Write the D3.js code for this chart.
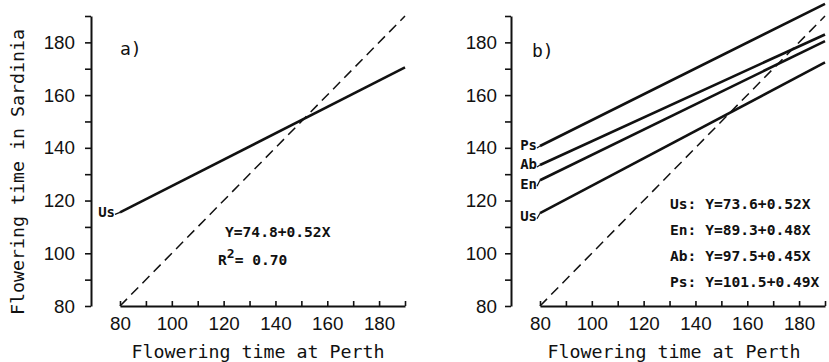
<!DOCTYPE html>
<html>
<head>
<meta charset="utf-8">
<script src="https://cdn.jsdelivr.net/npm/d3@7"></script>
<style>
  body { margin: 0; background: #fff; }
  svg { display: block; }
  .tick text { font-family: 'Liberation Sans', Arial, sans-serif; font-size: 18.8px; fill: #111; }
  .mono { font-family: 'DejaVu Sans Mono', monospace; fill: #111; }
  .bold { font-family: 'DejaVu Sans Mono', monospace; font-weight: bold; fill: #111; }
</style>
</head>
<body>
<div id="chart"></div>
<script>
// axis values
const xTicks = [80, 90, 100, 110, 120, 130, 140, 150, 160, 170, 180, 190];
const yTicks = [80, 90, 100, 110, 120, 130, 140, 150, 160, 170, 180, 190];
const tickLabels = [80, 100, 120, 140, 160, 180];

// 1:1 line
const diagonal = [80, 190];

// panel a: single regression (values read at x = 80 and x = 190)
const lineX = [80, 190];
const usA = [115.5, 170.5];
const eqA = 'Y=74.8+0.52X';
const r2A = '0.70';

// panel b: four lines, values at x = 80 and x = 190
const seriesB = ['Ps', 'Ab', 'En', 'Us'];
const startB = [140.7, 133.5, 127.7, 115.2];
const endB = [194.6, 183.0, 180.5, 172.4];
const eqB = ['Us: Y=73.6+0.52X', 'En: Y=89.3+0.48X', 'Ab: Y=97.5+0.45X', 'Ps: Y=101.5+0.49X'];

const width = 829;
const height = 362;

const svg = d3.select('#chart')
  .append('svg')
  .attr('width', width)
  .attr('height', height);

svg.append('rect').attr('width', width).attr('height', height).attr('fill', '#fff');

const y = d3.scaleLinear().domain([80, 190]).range([306, 16]);

function drawPanel(offset, yPad, titleX) {
  const g = svg.append('g').attr('transform', `translate(${offset},0)`);
  const x = d3.scaleLinear().domain([80, 190]).range([120, 405]);
  const axisX = 91;

  const yAxis = g.append('g')
    .attr('transform', `translate(${axisX},0)`)
    .call(d3.axisLeft(y)
      .tickValues(yTicks)
      .tickSizeInner(6)
      .tickSizeOuter(0)
      .tickPadding(yPad)
      .tickFormat(d => tickLabels.includes(d) ? d : ''));

  const xAxis = g.append('g')
    .attr('transform', `translate(0,${y(80)})`)
    .call(d3.axisBottom(x)
      .tickValues(xTicks)
      .tickSizeInner(-5)
      .tickSizeOuter(0)
      .tickPadding(11)
      .tickFormat(d => tickLabels.includes(d) ? d : ''));

  [yAxis, xAxis].forEach(a => {
    a.select('.domain').attr('stroke', '#111').attr('stroke-width', 2);
    a.selectAll('.tick line').attr('stroke', '#111').attr('stroke-width', 1.6);
  });

  // dashed 1:1 line
  g.append('line')
    .attr('x1', x(diagonal[0])).attr('y1', y(diagonal[0]))
    .attr('x2', x(diagonal[1])).attr('y2', y(diagonal[1]))
    .attr('stroke', '#111')
    .attr('stroke-width', 1.5)
    .attr('stroke-dasharray', '10,6');

  g.append('text')
    .attr('class', 'mono')
    .attr('x', titleX)
    .attr('y', 358)
    .attr('text-anchor', 'middle')
    .attr('font-size', 18.3)
    .text('Flowering time at Perth');

  return { g, x };
}

// panel a
const pa = drawPanel(0, 10, 258);

pa.g.append('text')
  .attr('class', 'mono')
  .attr('transform', 'translate(24,172) rotate(-90)')
  .attr('text-anchor', 'middle')
  .attr('font-size', 18.3)
  .text('Flowering time in Sardinia');

pa.g.append('text')
  .attr('class', 'mono')
  .attr('x', 120).attr('y', 55)
  .attr('font-size', 18)
  .text('a)');

pa.g.append('line')
  .attr('x1', pa.x(lineX[0])).attr('y1', y(usA[0]))
  .attr('x2', pa.x(lineX[1])).attr('y2', y(usA[1]))
  .attr('stroke', '#111')
  .attr('stroke-width', 2.6);

pa.g.append('text')
  .attr('class', 'bold')
  .attr('x', 115).attr('y', y(usA[0]) + 4.5)
  .attr('text-anchor', 'end')
  .attr('font-size', 14)
  .text('Us');

pa.g.append('line')
  .attr('x1', 115).attr('y1', y(usA[0]) + 2)
  .attr('x2', pa.x(lineX[0])).attr('y2', y(usA[0]))
  .attr('stroke', '#111').attr('stroke-width', 1.2);

pa.g.append('text')
  .attr('class', 'bold')
  .attr('x', 225).attr('y', 237)
  .attr('font-size', 14.6)
  .text(eqA);

const r2 = pa.g.append('text')
  .attr('class', 'bold')
  .attr('x', 218).attr('y', 265)
  .attr('font-size', 14.6);
r2.append('tspan').text('R');
r2.append('tspan').attr('dy', -7).attr('font-size', 13).text('2');
r2.append('tspan').attr('dy', 7).text('= ' + r2A);

// panel b
const pb = drawPanel(420, 8, 254);

pb.g.append('text')
  .attr('class', 'mono')
  .attr('x', 112).attr('y', 56.5)
  .attr('font-size', 18)
  .text('b)');

const labelDrop = [4.5, 4.5, 8.5, 8];

seriesB.forEach((name, i) => {
  const y0 = y(startB[i]);
  pb.g.append('line')
    .attr('x1', pb.x(lineX[0])).attr('y1', y0)
    .attr('x2', pb.x(lineX[1])).attr('y2', y(endB[i]))
    .attr('stroke', '#111')
    .attr('stroke-width', 2.6);

  pb.g.append('text')
    .attr('class', 'bold')
    .attr('x', 117).attr('y', y0 + labelDrop[i])
    .attr('text-anchor', 'end')
    .attr('font-size', 14)
    .text(name);

  pb.g.append('line')
    .attr('x1', 117).attr('y1', y0 + labelDrop[i] - 2.5)
    .attr('x2', pb.x(lineX[0])).attr('y2', y0)
    .attr('stroke', '#111').attr('stroke-width', 1.2);
});

pb.g.selectAll('text.eq')
  .data(eqB)
  .enter()
  .append('text')
  .attr('class', 'bold eq')
  .attr('x', 250)
  .attr('y', (d, i) => 208.5 + i * 26)
  .attr('font-size', 14.6)
  .text(d => d);
</script>
</body>
</html>
